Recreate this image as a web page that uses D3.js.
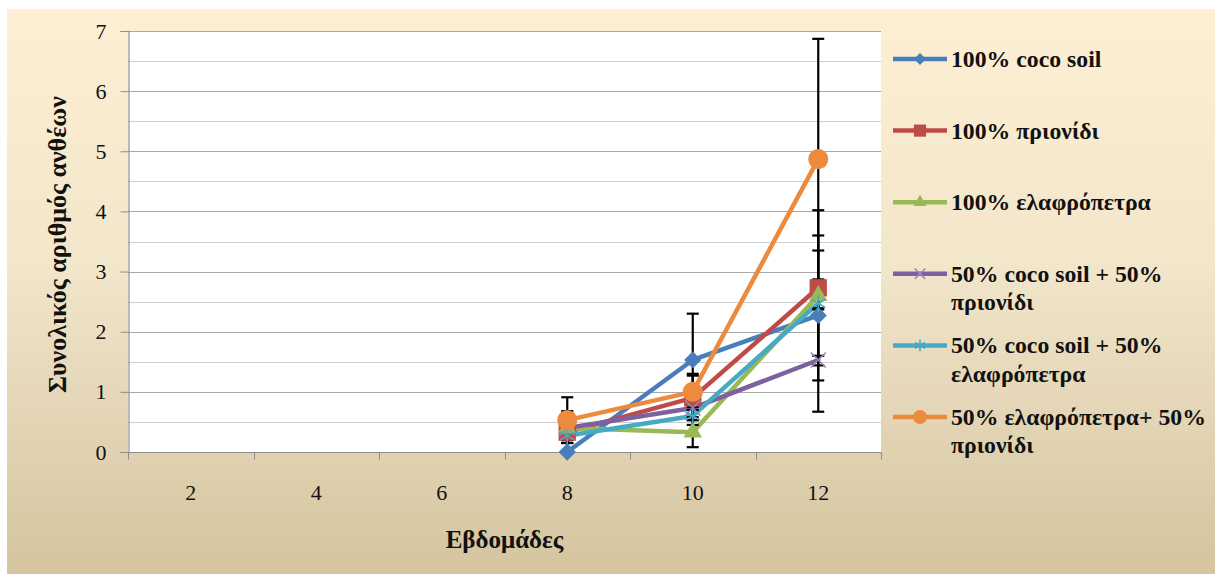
<!DOCTYPE html>
<html><head><meta charset="utf-8">
<script src="https://cdn.jsdelivr.net/npm/d3@7"></script>
</head><body>
<svg id="s" width="1215" height="574"></svg>
<script>
// ---- data ----
const weeks = ["2", "4", "6", "8", "10", "12"];
const yTicks = [0, 1, 2, 3, 4, 5, 6, 7];
const seriesNames = [
  ["100% coco soil"],
  ["100% πριονίδι"],
  ["100% ελαφρόπετρα"],
  ["50% coco soil + 50%", "πριονίδι"],
  ["50% coco soil + 50%", "ελαφρόπετρα"],
  ["50% ελαφρόπετρα+ 50%", "πριονίδι"]
];
const cocoSoil      = [null, null, null, 0.00, 1.53, 2.27];
const prionidi      = [null, null, null, 0.33, 0.90, 2.73];
const elafropetra   = [null, null, null, 0.40, 0.33, 2.60];
const cocoPrionidi  = [null, null, null, 0.40, 0.73, 1.53];
const cocoElafro    = [null, null, null, 0.27, 0.60, 2.47];
const elafroPrionidi= [null, null, null, 0.53, 1.00, 4.87];
const errCoco       = [0, 0, 0, 0.00, 0.77, 1.08];
const errPrionidi   = [0, 0, 0, 0.35, 0.37, 1.29];
const errElafro     = [0, 0, 0, 0.20, 0.25, 1.00];
const errCocoPrion  = [0, 0, 0, 0.25, 0.20, 0.86];
const errCocoElafro = [0, 0, 0, 0.12, 0.15, 0.10];
const errElafroPrion= [0, 0, 0, 0.38, 0.30, 2.00];
const xTitle = "Εβδομάδες";
const yTitle = "Συνολικός αριθμός ανθέων";

const seriesValues = [cocoSoil, prionidi, elafropetra, cocoPrionidi, cocoElafro, elafroPrionidi];
const seriesErrors = [errCoco, errPrionidi, errElafro, errCocoPrion, errCocoElafro, errElafroPrion];
const colors = ["#4a7ebb", "#be4b48", "#98b954", "#7d60a0", "#46aac5", "#ec8a3e"];
const markerKinds = ["diamond", "square", "triangle", "x", "asterisk", "circle"];

// ---- layout ----
d3.select("body").style("margin", "0px");
const FONT = '"Liberation Serif", "Tinos", "Times New Roman", "FreeSerif", "DejaVu Serif", serif';
const svg = d3.select("#s").style("display", "block");
const plot = {left: 128, right: 881, top: 31, bottom: 452};
function txt(sel, size, bold) {
  return sel.style("font-family", FONT).style("font-size", size + "px").style("font-weight", bold ? "bold" : "normal").attr("fill", "#111");
}

const defs = svg.append("defs");
const grad = defs.append("linearGradient").attr("id", "bg").attr("x1", 0).attr("y1", 0).attr("x2", 0).attr("y2", 1);
grad.append("stop").attr("offset", "0").attr("stop-color", "#fdefd3");
grad.append("stop").attr("offset", "0.45").attr("stop-color", "#f2e6cb");
grad.append("stop").attr("offset", "1").attr("stop-color", "#d4c49f");
svg.append("rect").attr("x", 7).attr("y", 9).attr("width", 1215 - 7).attr("height", 574 - 9).attr("fill", "url(#bg)");

const x = d3.scaleBand().domain(weeks).range([plot.left, plot.right]).padding(0);
const y = d3.scaleLinear().domain([0, 7]).range([plot.bottom, plot.top]);

svg.append("rect").attr("x", plot.left).attr("y", plot.top)
  .attr("width", plot.right - plot.left).attr("height", plot.bottom - plot.top).attr("fill", "#ffffff");

// gridlines
const minor = d3.range(0.5, 7, 1);
svg.append("g").selectAll("line").data(minor).join("line")
  .attr("x1", plot.left).attr("x2", plot.right)
  .attr("y1", d => Math.round(y(d)) + 0.5).attr("y2", d => Math.round(y(d)) + 0.5)
  .attr("stroke", "#cfcfcf").attr("stroke-width", 1);
svg.append("g").selectAll("line").data(yTicks.slice(1)).join("line")
  .attr("x1", plot.left).attr("x2", plot.right)
  .attr("y1", d => Math.round(y(d)) + 0.5).attr("y2", d => Math.round(y(d)) + 0.5)
  .attr("stroke", "#a8a8a8").attr("stroke-width", 1);

// y axis
const yAxis = d3.axisLeft(y).tickValues(yTicks).tickSize(8).tickPadding(14).tickFormat(d3.format("d"));
const gy = svg.append("g").attr("transform", `translate(${plot.left + 0.5},0)`).call(yAxis);
gy.select(".domain").attr("stroke", "#8c8c8c").attr("stroke-width", 1.2);
gy.selectAll(".tick line").attr("stroke", "#8c8c8c");
gy.selectAll(".tick text").call(txt, 22, false);

// x axis (category boundaries as ticks)
const gx = svg.append("g").attr("transform", `translate(0,${plot.bottom + 0.5})`);
gx.append("line").attr("x1", plot.left).attr("x2", plot.right).attr("stroke", "#8c8c8c").attr("stroke-width", 1.2);
const bounds = weeks.map(w => x(w)).concat([x(weeks[weeks.length - 1]) + x.bandwidth()]);
gx.selectAll("line.tk").data(bounds).join("line").attr("class", "tk")
  .attr("x1", d => Math.round(d) + 0.5).attr("x2", d => Math.round(d) + 0.5).attr("y1", 0).attr("y2", 7)
  .attr("stroke", "#8c8c8c");
gx.selectAll("text").data(weeks).join("text")
  .attr("x", d => x(d) + x.bandwidth() / 2).attr("y", 47)
  .attr("text-anchor", "middle").call(txt, 22, false)
  .text(d => d);

// titles
svg.append("text").attr("x", (plot.left + plot.right) / 2).attr("y", 548)
  .attr("text-anchor", "middle").call(txt, 25, true).text(xTitle);
svg.append("text").attr("transform", `translate(66,${(plot.top + plot.bottom) / 2 + 3}) rotate(-90)`)
  .attr("text-anchor", "middle").call(txt, 26, true).text(yTitle);

// marker helper
function markerPath(kind, scale) {
  const s = scale;
  switch (kind) {
    case "diamond": return d3.symbol().type(d3.symbolDiamond2 || d3.symbolDiamond).size(190 * s * s)();
    case "square": return d3.symbol().type(d3.symbolSquare).size(300 * s * s)();
    case "triangle": return d3.symbol().type(d3.symbolTriangle).size(150 * s * s)();
    case "circle": return d3.symbol().type(d3.symbolCircle).size(320 * s * s)();
    case "x": return d3.symbol().type(d3.symbolX || d3.symbolCross).size(150 * s * s)();
    case "asterisk": return d3.symbol().type(d3.symbolAsterisk || d3.symbolStar).size(190 * s * s)();
  }
}
function styleMarker(sel, i) {
  const k = markerKinds[i];
  if (k === "x" || k === "asterisk") {
    sel.attr("fill", "none").attr("stroke", k === "x" ? "#9b86bb" : "#46aac5").attr("stroke-width", 1.6);
  } else {
    sel.attr("fill", colors[i]).attr("stroke", "none");
  }
}

const cx = w => x(w) + x.bandwidth() / 2;
const pts = seriesValues.map(vals => weeks.map((w, j) => ({w, v: vals[j]})).filter(p => p.v !== null));

const line = d3.line().x(d => cx(d.w)).y(d => y(d.v));
const gLines = svg.append("g");
pts.forEach((p, i) => {
  gLines.append("path").datum(p).attr("d", line).attr("fill", "none")
    .attr("stroke", colors[i]).attr("stroke-width", 4.5).attr("stroke-linejoin", "round").attr("stroke-linecap", "round");
});

// error bars
const gErr = svg.append("g");
seriesValues.forEach((vals, i) => {
  weeks.forEach((w, j) => {
    const v = vals[j], e = seriesErrors[i][j];
    if (v === null || !e) return;
    const xx = cx(w);
    gErr.append("line").attr("x1", xx).attr("x2", xx).attr("y1", y(v - e)).attr("y2", y(v + e))
      .attr("stroke", "#000").attr("stroke-width", 2.2);
    [v - e, v + e].forEach(t => {
      gErr.append("line").attr("x1", xx - 6).attr("x2", xx + 6).attr("y1", y(t)).attr("y2", y(t))
        .attr("stroke", "#000").attr("stroke-width", 2.2);
    });
  });
});

// markers
const gMarks = svg.append("g");
pts.forEach((p, i) => {
  gMarks.selectAll(null).data(p).join("path")
    .attr("transform", d => `translate(${cx(d.w)},${y(d.v)})`)
    .attr("d", markerPath(markerKinds[i], 1))
    .call(styleMarker, i);
});

// legend
const legendX = 893, legendLineLen = 54, legendTop = 59, legendStep = 71.6, textX = 951;
const gLeg = svg.append("g");
const legTexts = [];
seriesNames.forEach((lines, i) => {
  const cy = legendTop + i * legendStep;
  gLeg.append("line").attr("x1", legendX).attr("x2", legendX + legendLineLen).attr("y1", cy).attr("y2", cy)
    .attr("stroke", colors[i]).attr("stroke-width", 4.5);
  gLeg.append("path").attr("transform", `translate(${legendX + legendLineLen / 2},${cy})`)
    .attr("d", markerPath(markerKinds[i], 0.7)).call(styleMarker, i);
  const t = gLeg.append("text").attr("data-cy", cy).attr("transform", `translate(${textX},${cy + 8})`)
    .call(txt, 23, true);
  lines.forEach((ln, k) => {
    t.append("tspan").attr("x", 0).attr("dy", k === 0 ? 0 : 28.5).text(ln);
  });
  legTexts.push(t);
});
// stretch legend text horizontally to fill the legend column as in the reference, never past the edge
function fitLegend() {
  const maxW = d3.max(legTexts, t => t.node().getBBox().width);
  const stretch = Math.max(0.8, Math.min(1.22, (1206 - textX) / maxW));
  legTexts.forEach(t => t.attr("transform", `translate(${textX},${+t.attr("data-cy") + 8}) scale(${stretch},1)`));
}
fitLegend();
</script>
</body></html>
